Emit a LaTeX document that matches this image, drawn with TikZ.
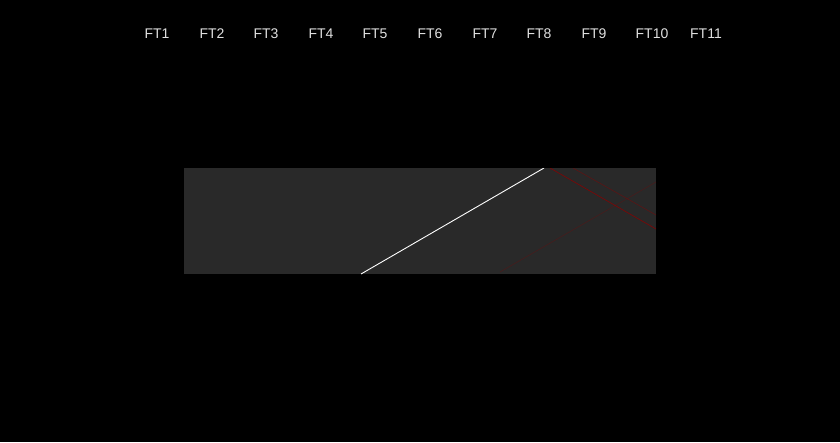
\documentclass[tikz,border=0pt]{standalone}
\usepackage{fontspec}
\setmainfont{Liberation Sans}
\begin{document}
\begin{tikzpicture}[x=1pt,y=-1pt,
  lbl/.style={text=black!12, font=\fontsize{14}{16}\selectfont, inner sep=0pt, anchor=base},
  redline/.style={draw=red!55!black, line width=0.6pt}]
\fill[black] (0,0) rectangle (840,442);
\useasboundingbox (0,0) rectangle (840,442);
% labels
\foreach \i/\x in {1/157,2/212,3/266,4/321,5/375,6/430,7/485,8/539,9/594,10/652,11/706}{
  \node[lbl] (ft\i) at (\x,38.5) {FT\i};
}
% panel
\fill[black!84] (184,168) rectangle (656,274);
\begin{scope}
\clip (184,168) rectangle (656,274);
\draw[redline, draw opacity=0.3] (500,272) -- (656,182);
\draw[redline, draw opacity=0.5] (573,168) -- (656,215);
\draw[redline, draw opacity=0.9] (550,168) -- (656,229);
\draw[white, line width=0.9pt] (361,274) -- (544,168);
\end{scope}
\end{tikzpicture}
\end{document}
